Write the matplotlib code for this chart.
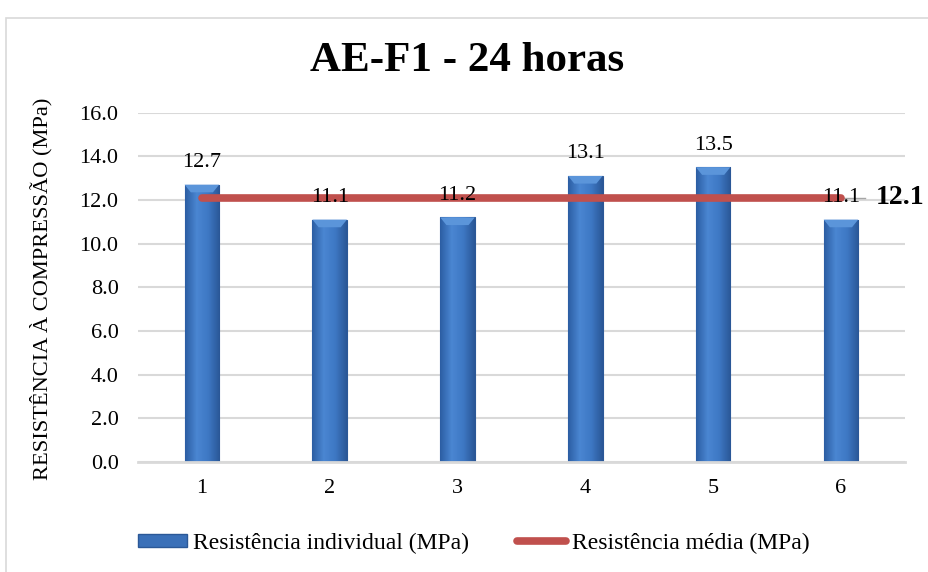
import numpy as np
import matplotlib
matplotlib.use("Agg")
import matplotlib.pyplot as plt
from matplotlib.patches import Rectangle
from matplotlib.colors import LinearSegmentedColormap
from matplotlib.lines import Line2D

# chart data
amostras = ["1", "2", "3", "4", "5", "6"]
resistencia = [12.7, 11.1, 11.2, 13.1, 13.5, 11.1]
media = 12.1
y_ticks = [0, 2, 4, 6, 8, 10, 12, 14, 16]

plt.rcParams["font.family"] = ["Liberation Serif", "DejaVu Serif"]

fig = plt.figure(figsize=(9.29, 5.72), dpi=100)
ax = fig.add_axes([0.1485, 0.1923, 0.8255, 0.6108])

# outer border of the chart area
fig.patches.append(Rectangle((6 / 929, -0.05), 1.1, 1 - 18 / 572 + 0.05,
                             transform=fig.transFigure, fill=False,
                             edgecolor="#D9D9D9", linewidth=1.2))

x = np.arange(len(amostras))
bars = ax.bar(x, resistencia, width=0.27, color="#3A70B8",
              edgecolor="#2B5897", linewidth=0.8, zorder=2)

# horizontal gradient inside each bar (bevel look)
grad = LinearSegmentedColormap.from_list(
    "bev", ["#2C5EA3", "#4A86D2", "#3E78C4", "#2A5797"])
g = np.linspace(0, 1, 64).reshape(1, -1)
for b in bars:
    x0, w, h = b.get_x(), b.get_width(), b.get_height()
    im = ax.imshow(g, cmap=grad, aspect="auto", extent=[x0, x0 + w, 0, h],
                   zorder=2.1)
    im.set_clip_path(b)
    # lighter top cap
    ax.fill([x0, x0 + w, x0 + w * 0.82, x0 + w * 0.18],
            [h, h, h - 0.35, h - 0.35], color="#5B95DA", zorder=2.2,
            linewidth=0)

# mean line
ax.plot([x[0], x[-1]], [media, media], color="#C0504D", linewidth=5.5,
        solid_capstyle="round", zorder=3)
ax.plot([x[-1], x[-1] + 0.19], [media, media], color="#A6A6A6",
        linewidth=1, zorder=2.5)
ax.text(x[-1] + 0.27, media, f"{media:.1f}", fontsize=20, fontweight="bold",
        va="center", ha="left", zorder=5, clip_on=False)

for xi, v in zip(x, resistencia):
    ax.annotate(f"{v:.1f}", (xi, v), xytext=(0, 9), textcoords="offset points",
                ha="center", va="bottom", fontsize=16, zorder=5)

ax.set_xlim(-0.5, len(amostras) - 0.5)
ax.set_ylim(0, 16)
ax.set_yticks(y_ticks)
ax.set_yticklabels([f"{t:.1f}" for t in y_ticks])
ax.set_xticks(x)
ax.set_xticklabels(amostras)
ax.tick_params(axis="both", length=0, labelsize=16)
ax.tick_params(axis="y", pad=14)
ax.tick_params(axis="x", pad=12)
ax.grid(axis="y", color="#D9D9D9", linewidth=1.5, zorder=0)
ax.set_axisbelow(True)
for s in ["top", "right", "left"]:
    ax.spines[s].set_visible(False)
ax.spines["bottom"].set_color("#D9D9D9")
ax.spines["bottom"].set_linewidth(2)

ax.set_ylabel("RESISTÊNCIA À COMPRESSÃO (MPa)", fontsize=16.2)
ax.yaxis.set_label_coords(-0.112, 0.497)
fig.text(0.503, 0.893, "AE-F1 - 24 horas", fontsize=31, fontweight="bold",
         ha="center", va="center")

handles = [Rectangle((0, 0), 1, 1, facecolor="#3A70B8", edgecolor="#2B5897"),
           Line2D([0], [0], color="#C0504D", linewidth=5.5,
                  solid_capstyle="round")]
fig.legend(handles, ["Resistência individual (MPa)", "Resistência média (MPa)"],
           loc="center", bbox_to_anchor=(0.51, 0.05), ncol=2, frameon=False,
           fontsize=17, handlelength=2.1, handletextpad=0.25,
           columnspacing=2.0, handleheight=0.5)

fig.savefig("out.png", dpi=100)
